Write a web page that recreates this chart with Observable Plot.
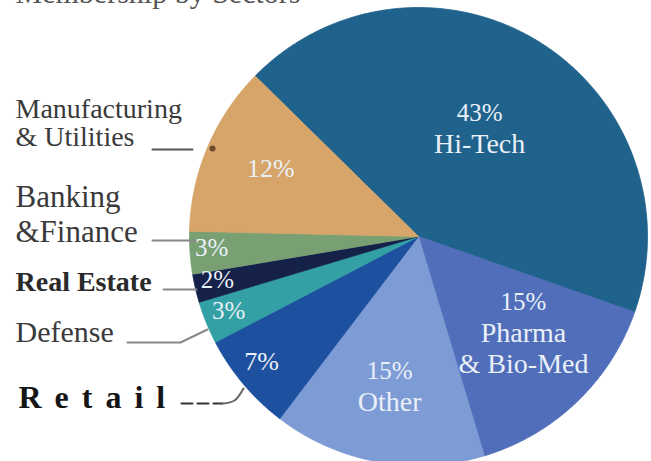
<!DOCTYPE html>
<html><head><meta charset="utf-8">
<script src="https://cdn.jsdelivr.net/npm/d3@7"></script>
<script src="https://cdn.jsdelivr.net/npm/@observablehq/plot@0.6"></script>
<style>
html,body{margin:0;padding:0;background:#fff;overflow:hidden}
#chart svg{display:block;background:#fff}
.retail-label text{letter-spacing:13px}
</style></head><body><div id="chart"></div>
<script>
// ---- data ----
const title = "Membership by Sectors";
const sectors = ["Hi-Tech","Pharma & Bio-Med","Other","Retail","Defense","Real Estate","Banking & Finance","Manufacturing & Utilities"];
const shares = [43,15,15,7,3,2,3,12];
const insideNames = [["Hi-Tech"],["Pharma","& Bio-Med"],["Other"],[],[],[],[],[]];
const sectorColors = ["#1f628c","#506eb9","#7d9bd4","#1e50a0","#32a0a5","#16214a","#78a073","#d7a569"];
const outsideLabels = ["Manufacturing\n& Utilities","Banking\n&Finance","Real Estate","Defense","Retail"];

// ---- layout ----
const W = 651, H = 461, CX = 418, CY = 236, R = 229;
const START = -45.5 * Math.PI / 180;
const labelAngle = [29.5,132.7,190.9,231.5,248.7,257.9,266.7,294.7];   // degrees, clockwise from top
const labelRadius = [0.542,0.624,0.667,0.876,0.89,0.898,0.905,0.71];
const pctSize = [25,25,25,26,25,25,25,26];
const nameSize = 28, lineGap = 31;
const outsideLayout = [
  {x:15, y:145, size:28, weight:"normal", lh:1.0, fill:"#3a3a3a"},
  {x:15, y:241, size:31, weight:"normal", lh:1.1, fill:"#3a3a3a"},
  {x:15, y:290, size:28, weight:"bold", lh:1, fill:"#2a2a2a"},
  {x:15, y:341, size:30, weight:"normal", lh:1, fill:"#3a3a3a"},
  {x:18, y:407, size:32, weight:"bold", lh:1, fill:"#151515"}
];
const leaders = [
  {id:"m", pts:[[152,149],[192,149]], stroke:"#555", dash:null},
  {id:"b", pts:[[152,240],[195,240]], stroke:"#888", dash:null},
  {id:"r", pts:[[163,289],[196,289]], stroke:"#888", dash:null},
  {id:"d", pts:[[127,342],[180,342],[207,329]], stroke:"#888", dash:null},
  {id:"t", pts:[[181,403],[222,403]], stroke:"#333", dash:"11,5"},
  {id:"c", pts:[[222,403],[234,400],[243,388]], stroke:"#666", dash:null}
];

// ---- build ----
const data = sectors.map((name, i) => ({name, share: shares[i], i}));
const arcs = d3.pie().sort(null).value(d => d.share).startAngle(START).endAngle(START + 2*Math.PI)(data);

const slicePts = [];
arcs.forEach(a => {
  slicePts.push({name: a.data.name, x: CX, y: CY});
  const n = Math.max(2, Math.ceil((a.endAngle - a.startAngle) / (0.5*Math.PI/180)));
  for (let k = 0; k <= n; k++) {
    const t = a.startAngle + (a.endAngle - a.startAngle) * k / n;
    slicePts.push({name: a.data.name, x: CX + R*Math.sin(t), y: CY - R*Math.cos(t)});
  }
  slicePts.push({name: a.data.name, x: CX, y: CY});
});

const insideLines = [];
data.forEach(d => {
  const m = labelAngle[d.i] * Math.PI / 180, f = labelRadius[d.i];
  const cx = CX + R*f*Math.sin(m), cy = CY - R*f*Math.cos(m);
  const lines = [{t: d.share + "%", size: pctSize[d.i]}, ...insideNames[d.i].map(t => ({t, size: nameSize}))];
  lines.forEach((l, k) => insideLines.push({x: cx, y: cy + (k - (lines.length-1)/2) * lineGap, text: l.t, size: l.size}));
});

const outside = outsideLabels.map((t, i) => ({text: t, ...outsideLayout[i]}));
const leaderPts = leaders.flatMap(l => l.pts.map(p => ({id: l.id, x: p[0], y: p[1]})));

const marks = [
  Plot.line(slicePts, {x:"x", y:"y", z:"name", fill:"name", stroke:"name", strokeWidth:0.8, curve:"linear"}),
  Plot.text([title], {x: () => 15, y: () => 2, text: d => d, textAnchor:"start", lineAnchor:"bottom", fontSize:30, fontFamily:"Liberation Serif", fill:"#555"}),
  Plot.text(insideLines, {x:"x", y:"y", text:"text", fill:"#eaf0f8", fontSize:"size", fontFamily:"Liberation Serif"})
];
outside.forEach((d, i) => {
  marks.push(Plot.text([d], {x:"x", y:"y", text:"text", textAnchor:"start", lineAnchor:"bottom", fill:d.fill, fontSize:d.size, fontWeight:d.weight, fontFamily:"Liberation Serif", lineHeight:d.lh, className: i === 4 ? "retail-label" : undefined}));
});
leaders.forEach(l => {
  marks.push(Plot.line(leaderPts.filter(p => p.id === l.id), {x:"x", y:"y", stroke:l.stroke, strokeWidth:2, strokeDasharray:l.dash || undefined, curve: l.id === "c" ? "catmull-rom" : "linear"}));
});
marks.push(Plot.dot([{x:212, y:148}], {x:"x", y:"y", r:3, fill:"#6b4a2a"}));

const chart = Plot.plot({
  width: W, height: H, margin: 0,
  x: {domain:[0, W], range:[0, W], axis:null},
  y: {domain:[0, H], range:[0, H], axis:null},
  color: {domain: sectors, range: sectorColors},
  style: {background:"#fff", overflow:"hidden"},
  marks
});
document.getElementById("chart").appendChild(chart);
</script></body></html>
